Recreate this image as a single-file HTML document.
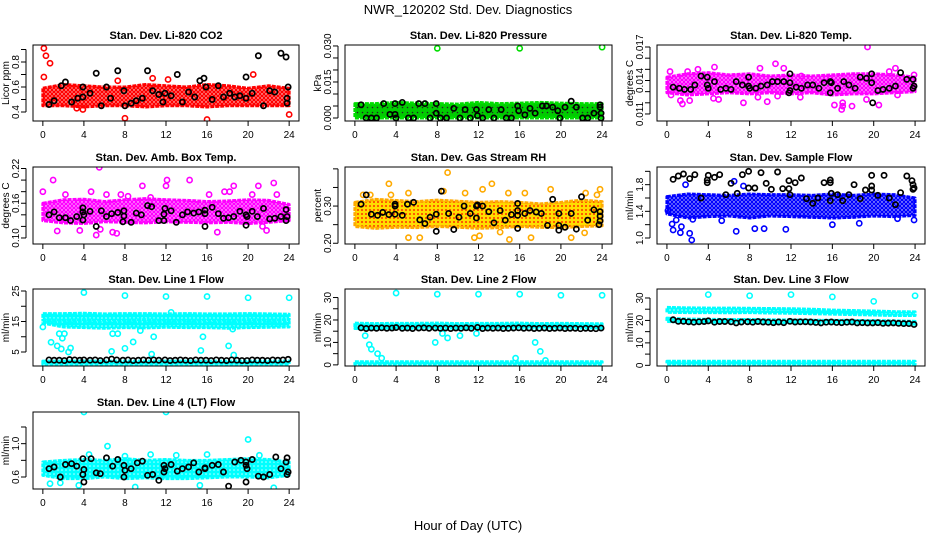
<!DOCTYPE html>
<html><head><meta charset="utf-8"><style>
body{margin:0;background:#fff;}
svg{display:block;font-family:"Liberation Sans",sans-serif;}
</style></head><body>
<svg id="chart" width="936" height="540" viewBox="0 0 936 540" xmlns="http://www.w3.org/2000/svg">
<defs>
<pattern id="pat-red" width="4" height="4" patternUnits="userSpaceOnUse"><rect width="4" height="4" fill="#fff"/><circle cx="2" cy="2" r="1.5" fill="none" stroke="#ff0000" stroke-width="1.6"/></pattern>
<pattern id="pat-green" width="5" height="5" patternUnits="userSpaceOnUse"><rect width="5" height="5" fill="#00cc00"/><circle cx="2.5" cy="2.5" r="0.8" fill="#222"/></pattern>
<pattern id="pat-magenta" width="4" height="4" patternUnits="userSpaceOnUse"><rect width="4" height="4" fill="#fff"/><circle cx="2" cy="2" r="1.5" fill="none" stroke="#ff00ff" stroke-width="1.6"/></pattern>
<pattern id="pat-orange" width="4" height="4" patternUnits="userSpaceOnUse"><rect width="4" height="4" fill="#ffdd00"/><circle cx="2" cy="2" r="1" fill="#ff3300"/></pattern>
<pattern id="pat-blue" width="4" height="4" patternUnits="userSpaceOnUse"><rect width="4" height="4" fill="#fff"/><circle cx="2" cy="2" r="1.5" fill="none" stroke="#0000ff" stroke-width="1.6"/></pattern>
<pattern id="pat-cyan" width="4" height="4" patternUnits="userSpaceOnUse"><rect width="4" height="4" fill="#00ffff"/><circle cx="2" cy="2" r="0.8" fill="#bff"/></pattern>
</defs>
<text x="468" y="14" text-anchor="middle" font-size="13">NWR_120202  Std. Dev. Diagnostics</text>
<text x="468" y="530" text-anchor="middle" font-size="13">Hour of Day (UTC)</text>
</svg>
<script>
// ---- data ----
const hours = [0,2,4,6,8,10,12,14,16,18,20,22,24];
const xTicks = [0,4,8,12,16,20,24];

const co2BandLo = [0.45,0.45,0.44,0.45,0.45,0.44,0.45,0.45,0.44,0.45,0.45,0.45,0.45];
const co2BandHi = [0.59,0.62,0.61,0.60,0.60,0.62,0.61,0.60,0.62,0.61,0.59,0.61,0.59];
const co2Out = [[0.1,0.91],[0.3,0.85],[0.1,0.68],[0.7,0.79],[8,0.35],[16,0.34],[24,0.38],[7.3,0.65],[10.7,0.67],[12.2,0.66],[20.5,0.70],[3.9,0.42],[3.3,0.43]];
const co2Black = [[0.6,0.46],[1.1,0.49],[1.8,0.61],[2.2,0.64],[2.8,0.48],[3.4,0.51],[3.9,0.52],[3.9,0.6],[4.6,0.55],[5.2,0.71],[5.7,0.45],[6.2,0.6],[6.6,0.51],[7.3,0.73],[7.9,0.57],[8,0.45],[8.6,0.47],[9.1,0.49],[9.7,0.51],[10.2,0.73],[10.7,0.57],[11.3,0.54],[11.7,0.48],[11.9,0.55],[12.5,0.53],[13.1,0.70],[13.6,0.48],[14.2,0.56],[14.8,0.52],[15.3,0.65],[15.7,0.67],[15.9,0.6],[16.5,0.50],[17.1,0.61],[17.6,0.52],[18.2,0.55],[18.7,0.52],[19.2,0.53],[19.8,0.51],[19.8,0.68],[20.4,0.55],[21.0,0.85],[21.5,0.45],[22.1,0.57],[22.6,0.56],[23.2,0.87],[23.7,0.84],[23.8,0.51],[23.9,0.6],[23.8,0.47]];

const presBandLo = [0,0,0,0,0,0,0,0,0,0,0,0,0];
const presBandHi = [0.006,0.006,0.0065,0.0062,0.006,0.0058,0.0065,0.006,0.0062,0.0065,0.0062,0.006,0.006];
const presOut = [[8,0.029],[16,0.029],[24,0.0295]];
const presBlack = [[0.6,0.0055],[1.1,0],[1.6,0],[2.1,0],[2.8,0.006],[3.4,0.0015],[3.9,0.006],[3.9,0.0015],[4.0,0],[4.6,0.0065],[5.2,0],[5.7,0],[6.2,0.006],[6.8,0.006],[7.3,0],[7.9,0.006],[7.9,0.002],[8.3,0],[8.9,0],[9.6,0.004],[10.2,0],[10.7,0.0035],[11.2,0],[11.8,0.0035],[11.9,0.001],[12.4,0],[13.0,0.0035],[13.5,0],[14.2,0.0035],[14.7,0],[15.2,0],[15.8,0.005],[15.9,0.003],[16.5,0.0013],[17.0,0.004],[17.5,0.002],[18.2,0.005],[18.6,0.005],[19.2,0.0045],[19.7,0.003],[19.9,0],[20.4,0.0045],[21.0,0.007],[21.5,0.0045],[22.1,0],[22.6,0],[23.2,0.002],[23.8,0.0055],[23.8,0.0045],[23.9,0],[23.9,0.002]];

const tempBandLo = [0.0129,0.0127,0.0128,0.0129,0.0128,0.0129,0.0128,0.0129,0.0127,0.0128,0.0128,0.0129,0.0130];
const tempBandHi = [0.0143,0.0146,0.0147,0.0145,0.0146,0.0144,0.0145,0.0144,0.0145,0.0146,0.0146,0.0145,0.0143];
const tempOut = [[0.3,0.0148],[0.4,0.0127],[1.3,0.0122],[1.5,0.0119],[2.2,0.0122],[2.0,0.0148],[3,0.0150],[4.6,0.0152],[4.5,0.0124],[5.0,0.0123],[7.4,0.0120],[9.7,0.0121],[8.8,0.0125],[10.5,0.0155],[10.7,0.0126],[13,0.0144],[12.9,0.0125],[16.2,0.0118],[17,0.0120],[17,0.0117],[16.9,0.0114],[17.9,0.0117],[19.4,0.0170],[19.3,0.0123],[20.5,0.0118],[22.1,0.0151],[21.5,0.0148],[22.3,0.0127],[23.9,0.0145],[9.0,0.0151],[11.3,0.0151]];
const tempBlack = [[0.6,0.0134],[1.2,0.0133],[1.7,0.0132],[2.3,0.0132],[2.7,0.0136],[3.3,0.0144],[3.9,0.0143],[3.9,0.0136],[4.0,0.0133],[4.6,0.0139],[5.2,0.0132],[5.7,0.0133],[6.2,0.0132],[6.7,0.0139],[7.3,0.0136],[7.9,0.0143],[7.9,0.0135],[8.0,0.0133],[8.6,0.0133],[9.1,0.0135],[9.7,0.0136],[10.2,0.0139],[10.7,0.0139],[11.3,0.0139],[11.9,0.0146],[11.9,0.0138],[11.9,0.0131],[11.8,0.0129],[12.5,0.0134],[13.0,0.0133],[13.6,0.0136],[14.1,0.0136],[14.7,0.0133],[15.2,0.0138],[15.8,0.0139],[15.9,0.0138],[15.8,0.0129],[16.5,0.0133],[17.1,0.0139],[17.6,0.0136],[18.2,0.0133],[18.7,0.0143],[19.3,0.0142],[19.8,0.0146],[19.8,0.0138],[19.9,0.0120],[20.4,0.0131],[20.9,0.0132],[21.5,0.0133],[22.1,0.0135],[22.6,0.0147],[23.2,0.0141],[23.8,0.0141],[23.8,0.0133],[23.9,0.0135]];

const ambBandLo = [0.130,0.126,0.125,0.128,0.127,0.126,0.128,0.127,0.126,0.127,0.125,0.127,0.130];
const ambBandHi = [0.160,0.166,0.167,0.163,0.166,0.168,0.166,0.165,0.163,0.164,0.166,0.165,0.158];
const ambOut = [[0,0.18],[1,0.20],[2.2,0.175],[1.4,0.112],[3.6,0.113],[4.7,0.18],[5.2,0.105],[5.6,0.115],[6.2,0.175],[6.8,0.110],[7.2,0.108],[7.6,0.175],[8.3,0.172],[9.7,0.19],[10.5,0.17],[12,0.19],[12.1,0.20],[14.3,0.2],[16.2,0.175],[17,0.11],[17.7,0.18],[18.2,0.18],[18.6,0.19],[20.4,0.175],[21,0.19],[21.4,0.12],[21.8,0.113],[22.5,0.195],[22.8,0.175],[5.5,0.222]];
const ambBlack = [[0.6,0.14],[1.1,0.145],[1.6,0.135],[2.2,0.135],[2.7,0.13],[3.3,0.137],[3.9,0.152],[3.9,0.145],[4.0,0.14],[3.9,0.131],[4.6,0.146],[5.2,0.12],[5.7,0.147],[6.2,0.137],[6.7,0.142],[7.3,0.144],[7.9,0.147],[7.9,0.138],[7.8,0.128],[8.6,0.127],[9.1,0.143],[9.6,0.14],[10.2,0.156],[10.6,0.154],[11.3,0.13],[11.8,0.141],[11.9,0.151],[11.8,0.13],[12.5,0.147],[13.0,0.127],[13.6,0.14],[14.1,0.145],[14.7,0.143],[15.2,0.145],[15.8,0.148],[15.8,0.142],[15.8,0.12],[16.5,0.153],[17.1,0.142],[17.6,0.134],[18.1,0.135],[18.6,0.137],[19.2,0.146],[19.8,0.14],[19.8,0.122],[19.9,0.137],[20.4,0.146],[20.9,0.137],[21.5,0.151],[22.1,0.133],[22.6,0.134],[23.2,0.137],[23.7,0.149],[23.8,0.137],[23.7,0.13]];

const rhBandLo = [0.245,0.240,0.243,0.242,0.245,0.243,0.240,0.242,0.245,0.243,0.242,0.245,0.247];
const rhBandHi = [0.310,0.318,0.315,0.312,0.316,0.313,0.310,0.312,0.310,0.306,0.310,0.316,0.312];
const rhOut = [[0.8,0.33],[1.5,0.33],[3.3,0.36],[3.5,0.33],[5.2,0.335],[8.6,0.34],[9.0,0.39],[10.7,0.335],[12.4,0.345],[13.3,0.36],[14.9,0.335],[16.5,0.335],[19.0,0.345],[22.4,0.335],[23.8,0.345],[5.2,0.215],[6.3,0.215],[11.6,0.215],[12.1,0.22],[15.0,0.21],[17.1,0.215],[21.0,0.215],[14.1,0.23],[22.3,0.228],[23.5,0.33]];
const rhBlack = [[0.6,0.305],[1.1,0.33],[1.6,0.278],[2.2,0.275],[2.7,0.283],[3.3,0.277],[3.9,0.305],[3.9,0.3],[3.9,0.278],[4.6,0.275],[5.1,0.305],[5.7,0.31],[6.3,0.263],[6.8,0.253],[7.3,0.27],[7.9,0.278],[7.9,0.232],[8.4,0.34],[9.1,0.28],[9.6,0.237],[10.1,0.27],[10.6,0.3],[11.2,0.28],[11.8,0.3],[11.8,0.268],[11.9,0.303],[12.4,0.3],[13.0,0.285],[13.5,0.255],[14.1,0.288],[14.6,0.262],[15.2,0.277],[15.8,0.307],[15.8,0.288],[15.8,0.275],[15.8,0.24],[16.5,0.28],[17.0,0.288],[17.6,0.284],[18.1,0.28],[18.7,0.248],[19.2,0.318],[19.8,0.28],[19.8,0.248],[19.8,0.235],[20.4,0.243],[21.0,0.28],[21.5,0.238],[22.0,0.325],[22.6,0.262],[23.2,0.29],[23.7,0.25],[23.8,0.285],[23.8,0.26],[23.8,0.273]];

const flowBandLo = [1.36,1.30,1.32,1.33,1.30,1.33,1.32,1.31,1.30,1.31,1.33,1.32,1.34];
const flowBandHi = [1.62,1.66,1.65,1.64,1.66,1.65,1.65,1.64,1.66,1.64,1.66,1.65,1.60];
const flowOut = [[0.1,1.41],[0.5,1.21],[0.6,1.12],[0.9,1.27],[1.3,1.08],[1.4,1.17],[2.2,1.07],[2.4,0.97],[2.5,1.28],[1.8,1.80],[5.3,1.26],[6.7,1.10],[8.5,1.14],[9.4,1.14],[11.5,1.13],[6.5,1.85],[7.4,1.78],[16.0,1.20],[18.6,1.22],[22.3,1.29],[23.9,1.27]];
const flowBlack = [[0.6,1.88],[1.1,1.93],[1.6,1.96],[2.2,1.89],[2.7,1.95],[3.3,1.60],[3.9,1.87],[3.9,1.83],[4.0,1.94],[4.6,1.91],[5.1,1.95],[5.7,1.65],[6.2,1.82],[6.8,1.67],[7.3,1.95],[7.9,2.0],[7.9,1.75],[8.5,1.75],[9.1,1.98],[9.6,1.82],[10.1,1.73],[10.7,1.99],[11.2,1.74],[11.8,1.86],[11.8,1.74],[11.9,1.65],[12.4,1.83],[13.0,1.90],[13.5,1.59],[14.1,1.52],[14.6,1.60],[15.2,1.83],[15.8,1.87],[15.8,1.83],[15.8,1.56],[15.9,1.67],[16.5,1.65],[17.0,1.56],[17.6,1.65],[18.1,1.80],[18.7,1.59],[19.2,1.72],[19.8,1.78],[19.8,1.94],[19.8,1.72],[20.4,1.64],[21.0,1.94],[21.5,1.60],[22.1,1.50],[22.6,1.68],[23.2,1.93],[23.7,1.86],[23.8,1.80],[23.8,1.73],[23.9,1.75]];

const line1BandALo = [15.6,15.5,15.6,15.4,15.5,15.6,15.4,15.5,15.5,15.4,15.6,15.5,15.6];
const line1BandAHi = [17.6,17.6,17.7,17.5,17.6,17.6,17.5,17.6,17.5,17.5,17.6,17.5,17.4];
const line1BandBLo = [14.5,13.2,13.0,12.8,13.0,12.9,13.1,13.0,13.0,12.8,13.0,13.1,13.2];
const line1BandBHi = [15.2,15.0,15.1,14.8,15.0,15.0,15.0,15.1,14.9,15.0,15.0,15.1,14.9];
const line1BandCLo = [1.0,1.0,1.0,1.0,1.0,1.0,1.0,1.0,1.0,1.0,1.0,1.0,1.0];
const line1BandCHi = [2.0,2.0,2.0,2.0,2.0,2.0,2.0,2.0,2.0,2.0,2.0,2.0,2.0];
const line1Out = [[4,24.5],[8,23.5],[12,23.2],[16,23.2],[20,22.8],[24,22.8],[0,13.2],[0.8,8.2],[1.4,7],[1.6,11],[1.8,6],[1.9,9.5],[2.1,11],[2.5,5],[2.7,6.3],[6.7,5.2],[6.8,11],[7.3,11],[8,6.2],[8.8,8.3],[10.6,4.3],[10.8,10],[15.4,5.5],[15.6,10],[18.1,7],[18.6,4],[12.5,18],[9.5,12],[18.5,12.5]];
const line1Black = [[0.6,2.4],[1.1,2.3],[1.6,2.3],[2.1,2.2],[2.6,2.5],[3.1,2.4],[3.6,2.3],[4.0,2.4],[4.6,2.3],[5.1,2.4],[5.6,2.2],[6.2,2.4],[6.7,2.7],[7.2,2.4],[7.8,2.3],[8.3,2.4],[8.8,2.2],[9.3,2.3],[9.8,2.4],[10.3,2.3],[10.8,2.4],[11.3,2.3],[11.9,2.4],[12.4,2.2],[12.9,2.3],[13.4,2.4],[13.9,2.3],[14.4,2.2],[14.9,2.4],[15.4,2.3],[15.9,2.3],[16.4,2.2],[16.9,2.4],[17.4,2.3],[17.9,2.2],[18.4,2.4],[18.9,2.3],[19.4,2.2],[19.9,2.2],[20.4,2.4],[20.9,2.3],[21.4,2.3],[21.9,2.2],[22.4,2.4],[22.9,2.3],[23.4,2.4],[23.9,2.6]];

const line2BandALo = [16.2,16.3,16.4,16.3,16.3,16.4,16.3,16.4,16.3,16.4,16.3,16.4,16.4];
const line2BandAHi = [18.6,18.4,18.5,18.5,18.6,18.4,18.5,18.5,18.6,18.4,18.5,18.4,18.3];
const line2BandCLo = [0.3,0.3,0.3,0.3,0.3,0.3,0.3,0.3,0.3,0.3,0.3,0.3,0.3];
const line2BandCHi = [1.4,1.4,1.4,1.4,1.4,1.4,1.4,1.4,1.4,1.4,1.4,1.4,1.4];
const line2Out = [[4,32],[8,31.5],[12,31.5],[16,31.5],[20,31],[24,31],[0.2,17],[1.0,13],[1.4,9],[1.6,7],[2.2,5],[2.6,3],[7.8,10],[8.5,14],[9,12],[10.2,13],[11.8,14],[15.6,3],[17.5,10],[18,6],[18.5,2]];
const line2Black = [[0.6,16.5],[1.1,16.2],[1.6,16.4],[2.1,16.3],[2.6,16.5],[3.1,16.3],[3.6,16.4],[4.0,16.6],[4.6,16.3],[5.1,16.4],[5.6,16.2],[6.2,16.4],[6.7,16.5],[7.2,16.3],[7.8,16.4],[8.3,16.3],[8.8,16.4],[9.3,16.2],[9.8,16.4],[10.3,16.3],[10.8,16.5],[11.3,16.3],[11.9,16.7],[12.4,16.2],[12.9,16.4],[13.4,16.3],[13.9,16.4],[14.4,16.2],[14.9,16.3],[15.4,16.4],[15.9,16.5],[16.4,16.3],[16.9,16.4],[17.4,16.2],[17.9,16.3],[18.4,16.4],[18.9,16.2],[19.4,16.3],[19.9,16.4],[20.4,16.2],[20.9,16.3],[21.4,16.3],[21.9,16.1],[22.4,16.3],[22.9,16.2],[23.4,16.1],[23.9,16.4]];

const line3BandALo = [23.6,23.5,23.5,23.4,23.5,23.3,23.2,23.0,22.8,22.6,22.4,22.2,22.2];
const line3BandAHi = [25.8,25.6,25.5,25.5,25.4,25.3,25.2,25.0,24.6,24.4,24.2,23.9,23.8];
const line3BandBLo = [19.5,19.3,19.2,19.2,19.1,19.0,19.0,18.9,18.8,18.7,18.6,18.5,18.3];
const line3BandBHi = [21.0,20.6,20.5,20.4,20.4,20.3,20.2,20.1,20.0,20.0,19.9,19.8,19.6];
const line3BandCLo = [0.5,0.5,0.5,0.5,0.5,0.5,0.5,0.5,0.5,0.5,0.5,0.5,0.5];
const line3BandCHi = [1.8,1.8,1.8,1.8,1.8,1.8,1.8,1.8,1.8,1.8,1.8,1.8,1.8];
const line3Out = [[4,31.5],[8,31],[12,31.5],[16,30.5],[20,28.5],[24,31]];
const line3Black = [[0.6,20.3],[1.1,19.6],[1.6,19.6],[2.1,19.4],[2.6,19.2],[3.1,19.4],[3.6,19.5],[4.0,19.8],[4.6,19.2],[5.1,19.5],[5.6,19.5],[6.2,19.4],[6.7,18.9],[7.2,19.3],[7.8,19.4],[8.3,19.2],[8.8,19.5],[9.3,19.3],[9.8,19.2],[10.3,19.0],[10.8,19.3],[11.3,19.0],[11.9,19.6],[12.4,19.3],[12.9,19.4],[13.4,19.4],[13.9,19.3],[14.4,19.1],[14.9,18.9],[15.4,19.2],[15.9,19.3],[16.4,19.1],[16.9,19.0],[17.4,19.2],[17.9,19.3],[18.4,18.9],[18.9,19.0],[19.4,18.9],[19.9,18.9],[20.4,19.0],[20.9,18.7],[21.4,18.8],[21.9,18.9],[22.4,18.7],[22.9,18.6],[23.4,18.6],[23.9,18.2]];

const line4BandLo = [0.62,0.58,0.58,0.60,0.58,0.59,0.58,0.58,0.59,0.60,0.60,0.59,0.62];
const line4BandHi = [0.78,0.80,0.81,0.80,0.82,0.80,0.81,0.80,0.80,0.81,0.82,0.81,0.78];
const line4Out = [[4,1.38],[12,1.38],[20,1.05],[6.3,0.97],[4.5,0.87],[10.5,0.87],[13,0.86],[16,0.87],[0.7,0.52],[1.7,0.53],[9,0.48],[15.3,0.5],[22.5,0.47],[3.5,0.5],[8,0.85],[21.1,0.86]];
const line4Black = [[0.6,0.7],[1.1,0.72],[1.7,0.6],[2.2,0.75],[2.8,0.76],[3.3,0.73],[3.9,0.63],[3.9,0.82],[4.0,0.54],[4.0,0.69],[4.7,0.82],[5.2,0.65],[5.6,0.64],[6.2,0.83],[6.8,0.73],[7.3,0.81],[7.9,0.74],[7.9,0.6],[8.0,0.68],[8.6,0.7],[9.2,0.77],[9.7,0.79],[10.2,0.62],[10.7,0.63],[11.3,0.56],[11.8,0.74],[11.8,0.66],[11.9,0.7],[12.5,0.75],[13.1,0.67],[13.6,0.7],[14.2,0.72],[14.7,0.77],[15.2,0.66],[15.8,0.71],[15.8,0.7],[16.5,0.74],[17.1,0.75],[17.6,0.66],[18.1,0.49],[18.7,0.78],[19.3,0.8],[19.8,0.54],[19.8,0.74],[19.8,0.78],[19.9,0.7],[20.4,0.81],[21.0,0.61],[21.5,0.6],[22.1,0.63],[22.7,0.84],[23.2,0.7],[23.7,0.78],[23.8,0.83],[23.8,0.63],[23.9,0.66]];

// ---- layout ----
const cols = [{l:33,r:299},{l:345,r:612},{l:657,r:925}];
const rows = [{t:45,b:121},{t:167,b:244},{t:289,b:366},{t:412,b:489}];
const NS = 'http://www.w3.org/2000/svg';
const svg = document.getElementById('chart');
function mk(tag, attrs, parent){const e=document.createElementNS(NS,tag);for(const k in attrs)e.setAttribute(k,attrs[k]);(parent||svg).appendChild(e);return e;}

const panels = [
 {id:'co2',title:'Stan. Dev. Li-820 CO2',ylab:'Licor ppm',c:0,r:0,dom:[0.328,0.936],ticks:[0.4,0.5,0.6,0.7,0.8,0.9],labs:[0.4,0.6,0.8],dec:1,color:'#ff0000',pat:'pat-red',bands:[[co2BandLo,co2BandHi]],out:co2Out,black:co2Black},
 {id:'pressure',title:'Stan. Dev. Li-820 Pressure',ylab:'kPa',c:1,r:0,dom:[-0.00125,0.0304],ticks:[0,0.005,0.01,0.015,0.02,0.025,0.03],labs:[0,0.015,0.03],dec:3,color:'#00dd00',pat:'pat-green',bands:[[presBandLo,presBandHi]],out:presOut,black:presBlack},
 {id:'temp',title:'Stan. Dev. Li-820 Temp.',ylab:'degrees C',c:2,r:0,dom:[0.01037,0.01718],ticks:[0.011,0.012,0.013,0.014,0.015,0.016,0.017],labs:[0.011,0.014,0.017],dec:3,color:'#ff00ff',pat:'pat-magenta',bands:[[tempBandLo,tempBandHi]],out:tempOut,black:tempBlack},
 {id:'ambtemp',title:'Stan. Dev. Amb. Box Temp.',ylab:'degrees C',c:0,r:1,dom:[0.0896,0.2226],ticks:[0.10,0.12,0.14,0.16,0.18,0.20,0.22],labs:[0.10,0.16,0.22],dec:2,color:'#ff00ff',pat:'pat-magenta',bands:[[ambBandLo,ambBandHi]],out:ambOut,black:ambBlack},
 {id:'rh',title:'Stan. Dev. Gas Stream RH',ylab:'percent',c:1,r:1,dom:[0.198,0.405],ticks:[0.20,0.25,0.30,0.35,0.40],labs:[0.20,0.30],dec:2,color:'#ffaa00',pat:'pat-orange',bands:[[rhBandLo,rhBandHi]],out:rhOut,black:rhBlack},
 {id:'sampleflow',title:'Stan. Dev. Sample Flow',ylab:'ml/min',c:2,r:1,dom:[0.91,2.065],ticks:[1.0,1.2,1.4,1.6,1.8,2.0],labs:[1.0,1.4,1.8],dec:1,color:'#0000ff',pat:'pat-blue',bands:[[flowBandLo,flowBandHi]],out:flowOut,black:flowBlack},
 {id:'line1',title:'Stan. Dev. Line 1 Flow',ylab:'ml/min',c:0,r:2,dom:[0.41,25.66],ticks:[5,10,15,20,25],labs:[5,15,25],dec:0,color:'#00ffff',pat:'pat-cyan',bands:[[line1BandALo,line1BandAHi],[line1BandBLo,line1BandBHi],[line1BandCLo,line1BandCHi]],out:line1Out,black:line1Black},
 {id:'line2',title:'Stan. Dev. Line 2 Flow',ylab:'ml/min',c:1,r:2,dom:[-0.5,33.8],ticks:[0,5,10,15,20,25,30],labs:[0,10,20,30],dec:0,color:'#00ffff',pat:'pat-cyan',bands:[[line2BandALo,line2BandAHi],[line2BandCLo,line2BandCHi]],out:line2Out,black:line2Black},
 {id:'line3',title:'Stan. Dev. Line 3 Flow',ylab:'ml/min',c:2,r:2,dom:[-0.3,34],ticks:[0,5,10,15,20,25,30],labs:[0,10,20,30],dec:0,color:'#00ffff',pat:'pat-cyan',bands:[[line3BandALo,line3BandAHi],[line3BandBLo,line3BandBHi],[line3BandCLo,line3BandCHi]],out:line3Out,black:line3Black},
 {id:'line4',title:'Stan. Dev. Line 4 (LT) Flow',ylab:'ml/min',c:0,r:3,dom:[0.456,1.38],ticks:[0.6,0.8,1.0,1.2],labs:[0.6,1.0],dec:1,color:'#00ffff',pat:'pat-cyan',bands:[[line4BandLo,line4BandHi]],out:line4Out,black:line4Black}
];

panels.forEach(p=>{
  const C=cols[p.c], R=rows[p.r];
  const xs = h => C.l + (h+0.96)/25.92*(C.r-C.l);
  const ys = v => R.b - (v-p.dom[0])/(p.dom[1]-p.dom[0])*(R.b-R.t);
  const g = mk('g',{});
  
  
  const clipId='clip-'+p.id;
  const cp=mk('clipPath',{id:clipId},g); mk('rect',{x:C.l,y:R.t,width:C.r-C.l,height:R.b-R.t},cp);
  const t=mk('text',{x:(C.l+C.r)/2,y:R.t-6,'text-anchor':'middle','font-size':'11','font-weight':'bold'},g);
  t.textContent=p.title;
  
  
  const yl=mk('text',{x:0,y:0,'text-anchor':'middle','font-size':'10',transform:`translate(${C.l-24},${(R.t+R.b)/2}) rotate(-90)`},g);
  yl.textContent=p.ylab;
  
  
  const plot=mk('g',{'clip-path':`url(#${clipId})`},g);
  
  
  p.bands.forEach((b,bi)=>{
    const lo=b[0], hi=b[1];
    let pts=hours.map((h,i)=>xs(h)+','+ys(hi[i]));
    pts=pts.concat(hours.map((h,i)=>[h,i]).reverse().map(([h,i])=>xs(h)+','+ys(lo[i])));
    const pg=mk('polygon',{points:pts.join(' '),fill:`url(#${p.pat})`,stroke:p.color,'stroke-width':'3','stroke-linejoin':'round','stroke-dasharray':'4 1'},plot);
    
    
  });
  p.out.forEach(d=>{
    const c=mk('circle',{cx:xs(d[0]),cy:ys(d[1]),r:2.6,fill:'none',stroke:p.color,'stroke-width':1.6},plot);
    
    
  });
  p.black.forEach(d=>{
    const c=mk('circle',{cx:xs(d[0]),cy:ys(d[1]),r:2.6,fill:'none',stroke:'#000','stroke-width':1.7},plot);
    
    
  });
  const box=mk('rect',{x:C.l,y:R.t,width:C.r-C.l,height:R.b-R.t,fill:'none',stroke:'#000','stroke-width':1},g);
  
  
  mk('line',{x1:xs(0),x2:xs(24),y1:R.b,y2:R.b,stroke:'#000'},g);
  xTicks.forEach(h=>{
    mk('line',{x1:xs(h),x2:xs(h),y1:R.b,y2:R.b+5,stroke:'#000'},g);
    const tl=mk('text',{x:xs(h),y:R.b+17,'text-anchor':'middle','font-size':'10'},g);
    tl.textContent=h;
    
    
  });
  mk('line',{x1:C.l-7,x2:C.l-7,y1:ys(p.ticks[0]),y2:ys(p.ticks[p.ticks.length-1]),stroke:'#000'},g);
  p.ticks.forEach(v=>{
    mk('line',{x1:C.l-12,x2:C.l-7,y1:ys(v),y2:ys(v),stroke:'#000'},g);
  });
  p.labs.forEach(v=>{
    if (ys(v) > R.b + 1) return;
    const tl=mk('text',{x:0,y:0,'text-anchor':'middle','font-size':'10',transform:`translate(${C.l-14},${ys(v)}) rotate(-90)`},g);
    tl.textContent=v.toFixed(p.dec);
    
    
  });
});
</script>
</body></html>
